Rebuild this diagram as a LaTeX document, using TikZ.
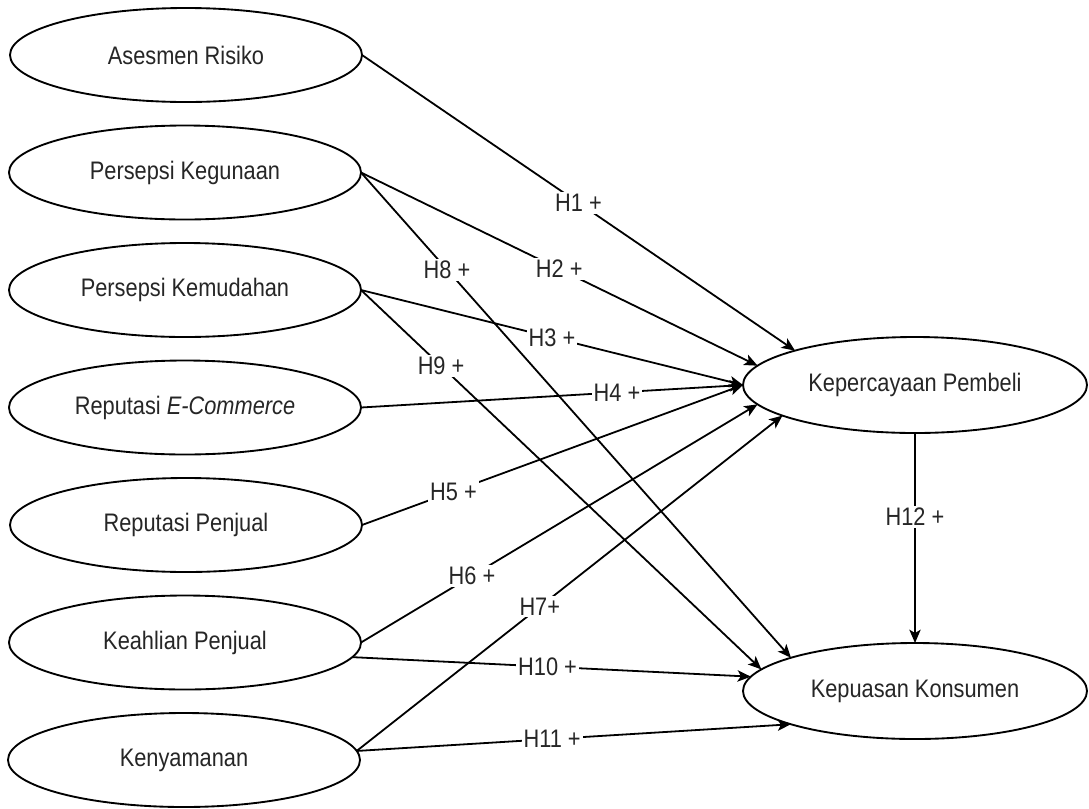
\documentclass[tikz,border=0pt]{standalone}
\usepackage{fontspec}
\setmainfont{Liberation Sans}
\usepackage{graphicx}
\usetikzlibrary{arrows.meta,shapes.geometric}

% narrow text, as set in the diagram
\newcommand{\sq}[1]{\scalebox{0.86}[1]{#1}}

\tikzset{
  construct/.style={ellipse, draw=black, line width=1.4pt, fill=white,
    minimum width=264pt, minimum height=70.5pt, inner sep=0pt, outer sep=0pt,
    font=\fontsize{19}{21}\selectfont, text=black!85},
  target/.style={construct, minimum width=258pt, minimum height=72pt},
  hedge/.style={line width=1.35pt, draw=black,
    -{Stealth[length=10pt,width=8.5pt,inset=2.5pt]}},
  hyp/.style={fill=white, inner sep=1.5pt, font=\fontsize{19}{21}\selectfont,
    text=black!85}
}

\begin{document}
\begin{tikzpicture}[x=0.75pt, y=-0.75pt]
  \fill[white] (0,0) rectangle (1089,808);
  \useasboundingbox (0,0) rectangle (1089,808);

  % exogenous constructs
  \node[construct] (ar) at (186,55)    {\sq{Asesmen Risiko}};
  \node[construct] (pg) at (185,172.5) {\sq{Persepsi Kegunaan}};
  \node[construct] (pm) at (185,290)   {\sq{Persepsi Kemudahan}};
  \node[construct] (re) at (185,407.5) {\sq{Reputasi \textit{E-Commerce}}};
  \node[construct] (rp) at (186,525)   {\sq{Reputasi Penjual}};
  \node[construct] (kh) at (185,642.5) {\sq{Keahlian Penjual}};
  \node[construct] (kn) at (184,760)   {\sq{Kenyamanan}};

  % endogenous constructs
  \node[target] (kp) at (915,385) {\sq{Kepercayaan Pembeli}};
  \node[target] (ks) at (915,691) {\sq{Kepuasan Konsumen}};

  % hypotheses towards Kepercayaan Pembeli
  \draw[hedge] (ar.east) -- node[hyp,pos=0.5]  {\sq{H1 +}} (kp.164.7);
  \draw[hedge] (pg.east) -- node[hyp,pos=0.5]  {\sq{H2 +}} (kp.173);
  \draw[hedge] (pm.east) -- node[hyp,pos=0.5]  {\sq{H3 +}} (kp.180);
  \draw[hedge] (re.east) -- node[hyp,pos=0.67] {\sq{H4 +}} (kp.180);
  \draw[hedge] (rp.east) -- node[hyp,pos=0.24] {\sq{H5 +}} (kp.180);
  \draw[hedge] (kh.east) -- node[hyp,pos=0.28] {\sq{H6 +}} (kp.187.8);
  \draw[hedge] (kn.3)    -- node[hyp,pos=0.43] {\sq{H7+}}  (kp.193.1);

  % hypotheses towards Kepuasan Konsumen
  \draw[hedge] (pg.east)  -- node[hyp,pos=0.2]  {\sq{H8 +}}  (ks.165);
  \draw[hedge] (pm.east)  -- node[hyp,pos=0.2]  {\sq{H9 +}}  (ks.172.7);
  \draw[hedge] (kh.355.6) -- node[hyp,pos=0.49] {\sq{H10 +}} (ks.175.6);
  \draw[hedge] (kn.3)     -- node[hyp,pos=0.45] {\sq{H11 +}} (ks.195.5);

  % trust to satisfaction
  \draw[hedge] (kp.south) -- node[hyp,pos=0.4] {\sq{H12 +}} (ks.north);
\end{tikzpicture}
\end{document}
